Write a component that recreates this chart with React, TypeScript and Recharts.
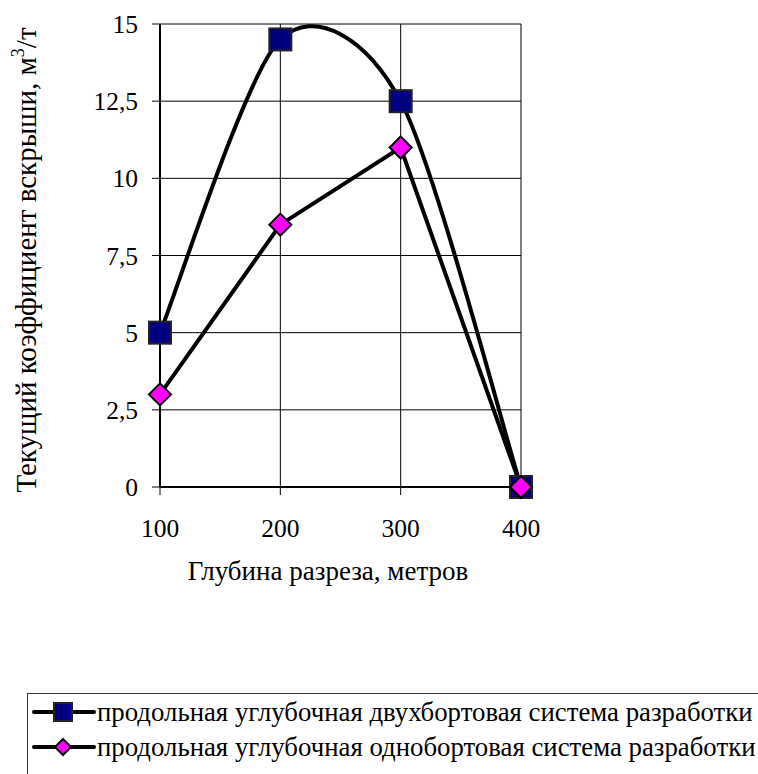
import { LineChart, Line, XAxis, YAxis, CartesianGrid } from 'recharts';

const depths = [100, 200, 300, 400];
const twoSided = [5, 14.5, 12.5, 0];
const oneSided = [3, 8.5, 11, 0];
const yTicks = [0, 2.5, 5, 7.5, 10, 12.5, 15];
const seriesNames = [
  'продольная углубочная двухбортовая система разработки',
  'продольная углубочная однобортовая система разработки',
];

const FONT = "'Liberation Serif', 'Times New Roman', serif";

const data = depths.map((d, i) => ({ depth: d, two: twoSided[i], one: oneSided[i] }));

// Excel-like smoothed line (cardinal spline through the points)
const smoothCurve = (context: any) => {
  let pts: number[][] = [];
  const k = 0.142;
  return {
    areaStart() {},
    areaEnd() {},
    lineStart() { pts = []; },
    point(x: number, y: number) { pts.push([+x, +y]); },
    lineEnd() {
      if (!pts.length) return;
      context.moveTo(pts[0][0], pts[0][1]);
      for (let i = 0; i < pts.length - 1; i++) {
        const p0 = pts[i - 1] || pts[i];
        const p1 = pts[i];
        const p2 = pts[i + 1];
        const p3 = pts[i + 2] || p2;
        context.bezierCurveTo(
          p1[0] + (p2[0] - p0[0]) * k, p1[1] + (p2[1] - p0[1]) * k,
          p2[0] - (p3[0] - p1[0]) * k, p2[1] - (p3[1] - p1[1]) * k,
          p2[0], p2[1]
        );
      }
    },
  };
};

const SquareDot = (props: any) => {
  const { cx, cy, index } = props;
  return <rect key={`sq-${index}`} x={cx - 11} y={cy - 11} width={22} height={22} fill="#000080" stroke="#222" strokeWidth={2} />;
};

const DiamondDot = (props: any) => {
  const { cx, cy, index } = props;
  const r = 11;
  return <polygon key={`dm-${index}`} points={`${cx},${cy - r} ${cx + r},${cy} ${cx},${cy + r} ${cx - r},${cy}`} fill="#ff00ff" stroke="#000" strokeWidth={2} />;
};

const YTitle = () => (
  <text transform="rotate(-90, 36, 260)" x={36} y={260} textAnchor="middle" style={{ fontFamily: FONT }} fontSize={29} fill="#000">
    Текущий коэффициент вскрыши, м<tspan dy={-12} fontSize={18}>3</tspan><tspan dy={12}>/т</tspan>
  </text>
);

const XTitle = () => (
  <text x={328} y={580} textAnchor="middle" style={{ fontFamily: FONT }} fontSize={27} fill="#000">
    Глубина разреза, метров
  </text>
);

const LegendIcon = ({ kind }: { kind: 'square' | 'diamond' }) => (
  <svg width={64} height={24} style={{ display: 'block' }}>
    <line x1={2} y1={12} x2={62} y2={12} stroke="#000" strokeWidth={4} strokeLinecap="round" />
    {kind === 'square'
      ? <rect x={22} y={3} width={18} height={18} fill="#000080" stroke="#222" strokeWidth={2} />
      : <polygon points="31,4 39,12 31,20 23,12" fill="#ff00ff" stroke="#000" strokeWidth={2} />}
  </svg>
);

const tickStyle = { fill: '#000', fontSize: 25.5, style: { fontFamily: FONT } };

const App = () => {
  return (
    <div style={{ position: 'absolute', left: 0, top: 0, width: 758, height: 774, overflow: 'hidden', background: '#fff', fontFamily: FONT }}>
      <LineChart width={758} height={774} data={data} margin={{ top: 24, right: 237, left: 0, bottom: 227 }} style={{ fontFamily: FONT }}>
        <CartesianGrid stroke="#000" strokeWidth={1} />
        <XAxis
          dataKey="depth"
          type="number"
          domain={[100, 400]}
          ticks={depths}
          height={60}
          tickSize={8}
          tickMargin={24}
          axisLine={{ stroke: '#000', strokeWidth: 2 }}
          tickLine={{ stroke: '#000' }}
          tick={tickStyle}
          label={{ content: () => <XTitle /> }}
        />
        <YAxis
          type="number"
          domain={[0, 15]}
          ticks={yTicks}
          width={160}
          tickSize={8}
          tickMargin={14}
          axisLine={{ stroke: '#000', strokeWidth: 2 }}
          tickLine={{ stroke: '#000' }}
          tick={tickStyle}
          tickFormatter={(v: number) => String(v).replace('.', ',')}
          label={{ content: () => <YTitle /> }}
        />
        <Line dataKey="two" name={seriesNames[0]} type={smoothCurve as any} stroke="#000" strokeWidth={4} dot={SquareDot} activeDot={false} isAnimationActive={false} />
        <Line dataKey="one" name={seriesNames[1]} type="linear" stroke="#000" strokeWidth={4} dot={DiamondDot} activeDot={false} isAnimationActive={false} />
      </LineChart>
      <div style={{ position: 'absolute', left: 27, top: 693, width: 800, height: 120, border: '1px solid #333', boxSizing: 'border-box', fontSize: 26.8, color: '#000' }}>
        {seriesNames.map((name, i) => (
          <div key={name} style={{ position: 'absolute', left: 4, top: 3 + i * 35, height: 30, display: 'flex', alignItems: 'center', whiteSpace: 'nowrap', lineHeight: '30px' }}>
            <LegendIcon kind={i === 0 ? 'square' : 'diamond'} />
            <span style={{ marginLeft: 1 }}>{name}</span>
          </div>
        ))}
      </div>
    </div>
  );
};

export default App;
